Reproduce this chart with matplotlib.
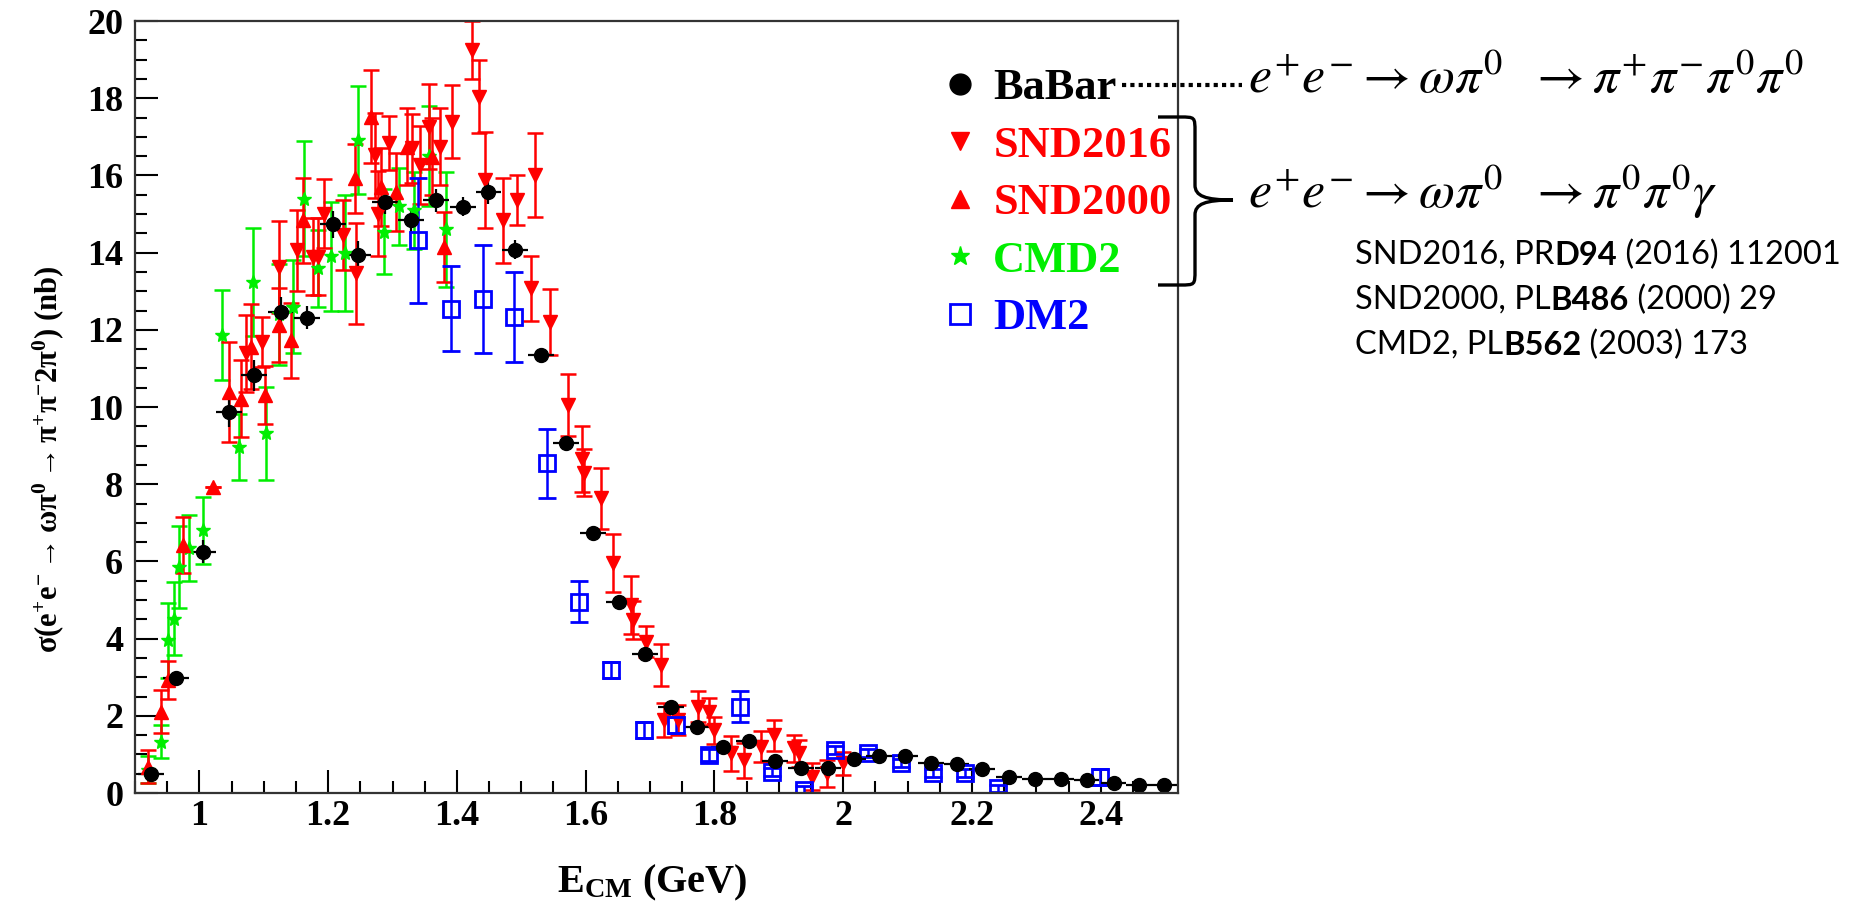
import matplotlib
matplotlib.use('Agg')
import matplotlib.pyplot as plt
from matplotlib.lines import Line2D
from matplotlib.path import Path
from matplotlib.patches import PathPatch
from matplotlib.ticker import MultipleLocator, FuncFormatter

plt.rcParams['font.family'] = ['Liberation Serif', 'DejaVu Serif']
plt.rcParams['mathtext.fontset'] = 'custom'
plt.rcParams['mathtext.rm'] = 'Liberation Serif:bold'
plt.rcParams['mathtext.it'] = 'Liberation Serif:italic:bold'
plt.rcParams['mathtext.bf'] = 'Liberation Serif:bold'

# ---- data (GeV, nb) ----
babar_x = [0.925, 0.964, 1.006, 1.046, 1.085, 1.126, 1.167, 1.207, 1.247, 1.288,
           1.329, 1.368, 1.410, 1.449, 1.490, 1.531, 1.570, 1.611, 1.652, 1.692,
           1.732, 1.773, 1.814, 1.854, 1.894, 1.934, 1.976, 2.016, 2.056, 2.096,
           2.136, 2.176, 2.216, 2.258, 2.298, 2.338, 2.378, 2.420, 2.460, 2.499]
babar_y = [0.48, 2.97, 6.25, 9.88, 10.82, 12.45, 12.31, 14.74, 13.95, 15.30,
           14.84, 15.36, 15.19, 15.56, 14.08, 11.34, 9.07, 6.74, 4.96, 3.60,
           2.24, 1.72, 1.20, 1.35, 0.83, 0.66, 0.66, 0.88, 0.96, 0.96,
           0.79, 0.75, 0.61, 0.42, 0.36, 0.36, 0.34, 0.27, 0.21, 0.21]
babar_err = [0.15, 0.15, 0.3, 0.4, 0.4, 0.4, 0.3, 0.35, 0.35, 0.3,
             0.3, 0.3, 0.25, 0.3, 0.25, 0.2, 0.15, 0.1, 0.1, 0.1,
             0.1, 0.08, 0.08, 0.08, 0.07, 0.06, 0.06, 0.06, 0.06, 0.06,
             0.05, 0.05, 0.05, 0.05, 0.04, 0.04, 0.04, 0.04, 0.03, 0.03]

snd16_x = [1.072, 1.097, 1.123, 1.151, 1.176, 1.185, 1.194, 1.223, 1.243, 1.273,
           1.277, 1.295, 1.331, 1.342, 1.356, 1.373, 1.392, 1.423, 1.435, 1.443,
           1.471, 1.494, 1.515, 1.522, 1.544, 1.572, 1.594, 1.598, 1.624, 1.643,
           1.670, 1.674, 1.694, 1.717, 1.722, 1.743, 1.774, 1.792, 1.800, 1.826,
           1.846, 1.872, 1.893, 1.924, 1.932, 1.952, 1.975, 1.999]
snd16_y = [11.39, 11.69, 13.63, 14.06, 13.89, 13.89, 15.01, 14.45, 13.46, 16.52,
           15.01, 16.83, 16.70, 16.27, 17.26, 16.74, 17.39, 19.24, 18.04, 15.88,
           14.84, 15.36, 13.07, 16.01, 12.21, 10.05, 8.65, 8.30, 7.63, 5.95,
           4.87, 4.48, 3.92, 3.31, 1.89, 1.89, 2.24, 2.11, 1.63, 1.03,
           0.85, 1.20, 1.50, 1.16, 1.03, 0.42, 0.51, 0.77]
snd16_err = [1.0, 0.65, 1.2, 1.05, 1.0, 1.0, 0.9, 0.9, 1.3, 1.1,
             1.1, 0.7, 0.9, 1.0, 1.1, 1.0, 0.95, 0.75, 0.95, 1.25,
             1.1, 0.65, 0.85, 1.1, 0.85, 0.8, 0.85, 0.6, 0.8, 0.75,
             0.75, 0.5, 0.4, 0.55, 0.45, 0.4, 0.4, 0.35, 0.35, 0.45,
             0.45, 0.4, 0.4, 0.35, 0.35, 0.35, 0.35, 0.3]

snd00_x = [0.920, 0.940, 0.952, 0.974, 1.021, 1.046, 1.065, 1.080, 1.102, 1.123,
           1.142, 1.161, 1.242, 1.267, 1.282, 1.305, 1.323, 1.362, 1.380]
snd00_y = [0.68, 2.11, 2.93, 6.42, 7.93, 10.39, 10.22, 11.56, 10.31, 12.12,
           11.73, 14.84, 15.92, 17.52, 15.70, 15.57, 16.74, 16.48, 14.15]
snd00_err = [0.43, 0.55, 0.5, 0.73, 0.0, 1.3, 1.0, 1.1, 0.75, 0.95,
             0.97, 1.1, 0.9, 1.2, 1.0, 1.0, 1.0, 1.0, 0.9]

cmd2_x = [0.920, 0.940, 0.951, 0.961, 0.969, 0.984, 1.006, 1.035, 1.062, 1.083,
          1.104, 1.123, 1.145, 1.163, 1.184, 1.204, 1.226, 1.246, 1.287, 1.310,
          1.334, 1.357, 1.383]
cmd2_y = [0.60, 1.33, 3.96, 4.52, 5.86, 6.34, 6.81, 11.86, 8.97, 13.24,
          9.32, 12.40, 12.60, 15.40, 13.59, 13.90, 13.98, 16.91, 14.54, 15.20,
          15.10, 16.50, 14.60]
cmd2_err = [0.35, 0.43, 0.97, 0.95, 1.06, 0.86, 0.87, 1.17, 0.85, 1.4,
            1.2, 1.3, 1.2, 1.5, 1.0, 1.4, 1.5, 1.4, 1.1, 1.0,
            1.0, 1.3, 1.5]

dm2_x = [1.340, 1.391, 1.441, 1.489, 1.540, 1.590, 1.639, 1.690, 1.740, 1.791,
         1.840, 1.890, 1.939, 1.988, 2.039, 2.090, 2.140, 2.189, 2.240, 2.399]
dm2_y = [14.32, 12.55, 12.79, 12.34, 8.54, 4.96, 3.19, 1.63, 1.76, 0.98,
         2.24, 0.55, 0.08, 1.11, 1.03, 0.77, 0.51, 0.51, 0.12, 0.42]
dm2_err = [1.62, 1.1, 1.4, 1.17, 0.9, 0.52, 0.2, 0.2, 0.2, 0.15,
           0.4, 0.1, 0.1, 0.1, 0.1, 0.1, 0.1, 0.1, 0.1, 0.2]

labels = ['BaBar', 'SND2016', 'SND2000', 'CMD2', 'DM2']
colors = ['black', 'red', 'red', '#00ee00', 'blue']

W, H = 1854, 905
fig = plt.figure(figsize=(W / 100, H / 100), dpi=100)
ax = fig.add_axes([135 / W, 1 - 793 / H, (1178 - 135) / W, (793 - 21) / H])


def px(x, y):
    # pixel position (from top-left) -> figure fraction
    return (x / W, 1 - y / H)


ax.errorbar(cmd2_x, cmd2_y, yerr=cmd2_err, fmt='*', color=colors[3], ms=10,
            elinewidth=1.8, capsize=6, capthick=1.8)
ax.errorbar(snd00_x, snd00_y, yerr=snd00_err, fmt='^', color='red', ms=10,
            elinewidth=1.8, capsize=6, capthick=1.8)
ax.errorbar(snd16_x, snd16_y, yerr=snd16_err, fmt='v', color='red', ms=10,
            elinewidth=1.8, capsize=6, capthick=1.8)
ax.errorbar(dm2_x, dm2_y, yerr=dm2_err, fmt='s', color='blue', mfc='none', ms=12,
            mew=2, elinewidth=1.8, capsize=6.5, capthick=1.8)
ax.errorbar(babar_x, babar_y, xerr=0.02, yerr=babar_err, fmt='o', color='black',
            ms=10, elinewidth=1.6, capsize=0)

ax.set_xlim(0.9, 2.52)
ax.set_ylim(0, 20)
ax.xaxis.set_major_locator(MultipleLocator(0.2))
ax.xaxis.set_minor_locator(MultipleLocator(0.05))
ax.yaxis.set_major_locator(MultipleLocator(2))
ax.yaxis.set_minor_locator(MultipleLocator(0.5))
ax.xaxis.set_major_formatter(FuncFormatter(lambda v, p: '%g' % round(v, 2)))
ax.tick_params(which='major', direction='in', length=16.5, width=1.5,
               top=False, right=False, labelsize=26)
ax.tick_params(which='minor', direction='in', length=8.5, width=1.5,
               top=False, right=False)
ax.tick_params(axis='x', pad=5)
ax.tick_params(axis='y', pad=8.5)
plt.setp(ax.get_xticklabels() + ax.get_yticklabels(), fontweight='bold')
for s in ax.spines.values():
    s.set_linewidth(1.6)
    s.set_color('#333333')

# axis titles
fig.text(*px(48, 459), r'$\mathrm{\sigma(e^{+}e^{-}\rightarrow\omega\pi^{0}\rightarrow\pi^{+}\pi^{-}2\pi^{0})}$ (nb)',
         rotation=90, ha='center', va='center', fontsize=22, weight='bold')
fig.text(*px(652, 892), r'$\mathrm{E_{CM}}$ (GeV)', ha='center', va='baseline',
         fontsize=29, weight='bold')

# legend
handles = [Line2D([], [], ls='none', marker='o', color='black', ms=15),
           Line2D([], [], ls='none', marker='v', color='red', ms=13),
           Line2D([], [], ls='none', marker='^', color='red', ms=13),
           Line2D([], [], ls='none', marker='*', color=colors[3], ms=14),
           Line2D([], [], ls='none', marker='s', color='blue', mfc='none', mew=2, ms=14)]
ax.legend(handles, labels, loc='upper left', bbox_to_anchor=px(920, 46),
          bbox_transform=fig.transFigure, frameon=False, labelcolor=colors,
          prop={'family': 'Liberation Serif', 'weight': 'bold', 'size': 32},
          handlelength=0.8, handletextpad=0.35, labelspacing=0.39, borderpad=0)

# dotted connector and brace
fig.add_artist(Line2D([1122 / W, 1242 / W], [1 - 85 / H, 1 - 85 / H], color='black',
                      lw=3, ls=(0, (1, 1)), dash_capstyle='butt'))
brace_pts = [(1158, 117), (1180, 117), (1195, 117), (1195, 117), (1195, 132),
             (1195, 185), (1195, 196), (1205, 200), (1233, 200),
             (1205, 200), (1195, 204), (1195, 215), (1195, 270),
             (1195, 285), (1195, 285), (1180, 285), (1158, 285)]
codes = [Path.MOVETO, Path.LINETO, Path.CURVE4, Path.CURVE4, Path.CURVE4,
         Path.LINETO, Path.CURVE4, Path.CURVE4, Path.CURVE4,
         Path.CURVE4, Path.CURVE4, Path.CURVE4, Path.LINETO,
         Path.CURVE4, Path.CURVE4, Path.CURVE4, Path.LINETO]
fig.add_artist(PathPatch(Path([px(*p) for p in brace_pts], codes), fill=False,
                         lw=2.4, ec='black', transform=fig.transFigure))

# reaction formulas
fig.text(*px(1248, 93), r'$e^{+}e^{-}\rightarrow\omega\pi^{0}\ \ \rightarrow\pi^{+}\pi^{-}\pi^{0}\pi^{0}$',
         math_fontfamily='stix', fontsize=37.5, va='baseline', ha='left')
fig.text(*px(1248, 208), r'$e^{+}e^{-}\rightarrow\omega\pi^{0}\ \ \rightarrow\pi^{0}\pi^{0}\gamma$',
         math_fontfamily='stix', fontsize=37.5, va='baseline', ha='left')

# references: plain + bold pieces chained one after another
refs = [('SND2016, PR', 'D94', ' (2016) 112001'),
        ('SND2000, PL', 'B486', ' (2000) 29'),
        ('CMD2, PL', 'B562', ' (2003) 173')]
for i, (a, b, c) in enumerate(refs):
    t = fig.text(*px(1355, 264 + 45 * i), a, family='Lato', weight='normal',
                 fontsize=23.5, va='baseline')
    t2 = ax.annotate(b, xy=(1, 0), xycoords=t, va='bottom', ha='left',
                     family='Lato', weight='bold', fontsize=23.5, annotation_clip=False)
    ax.annotate(c, xy=(1, 0), xycoords=t2, va='bottom', ha='left',
                family='Lato', weight='normal', fontsize=23.5, annotation_clip=False)

fig.savefig('out.png', dpi=100)
